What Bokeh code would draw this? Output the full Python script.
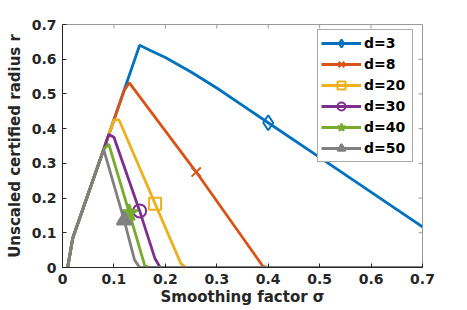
from bokeh.plotting import figure
from bokeh.models import FixedTicker, Legend, LegendItem, Range1d
from bokeh.embed import file_html
from bokeh.resources import INLINE

# ---- data ----
labels = ["d=3", "d=8", "d=20", "d=30", "d=40", "d=50"]
colors = ["#0072BD", "#D95319", "#EDB120", "#7E2F8E", "#77AC30", "#808080"]

x_d3 = [0.01, 0.02, 0.08, 0.15, 0.17, 0.20, 0.25, 0.30, 0.35, 0.40, 0.50, 0.60, 0.70]
y_d3 = [0.0, 0.085, 0.34, 0.64, 0.626, 0.605, 0.563, 0.517, 0.467, 0.417, 0.317, 0.217, 0.117]

x_d8 = [0.01, 0.02, 0.08, 0.12, 0.13, 0.26, 0.39, 0.40, 0.70]
y_d8 = [0.0, 0.085, 0.34, 0.51, 0.532, 0.275, 0.003, 0.0, 0.0]

x_d20 = [0.01, 0.02, 0.08, 0.10, 0.11, 0.18, 0.23, 0.24, 0.70]
y_d20 = [0.0, 0.085, 0.34, 0.425, 0.425, 0.184, 0.012, 0.0, 0.0]

x_d30 = [0.01, 0.02, 0.08, 0.09, 0.10, 0.15, 0.18, 0.19, 0.70]
y_d30 = [0.0, 0.085, 0.34, 0.383, 0.375, 0.163, 0.025, 0.0, 0.0]

x_d40 = [0.01, 0.02, 0.08, 0.09, 0.13, 0.16, 0.17, 0.70]
y_d40 = [0.0, 0.085, 0.34, 0.355, 0.157, 0.005, 0.0, 0.0]

x_d50 = [0.01, 0.02, 0.08, 0.12, 0.14, 0.15, 0.70]
y_d50 = [0.0, 0.085, 0.34, 0.136, 0.022, 0.0, 0.0]

marker_index = [9, 5, 5, 5, 4, 3]
markers = ["diamond", "x", "square", "circle", "star", "triangle"]

x_ticks = [0, 0.1, 0.2, 0.3, 0.4, 0.5, 0.6, 0.7]
x_tick_labels = ["0", "0.1", "0.2", "0.3", "0.4", "0.5", "0.6", "0.7"]
y_ticks = [0, 0.1, 0.2, 0.3, 0.4, 0.5, 0.6, 0.7]
y_tick_labels = ["0", "0.1", "0.2", "0.3", "0.4", "0.5", "0.6", "0.7"]
x_min, x_max = 0.0, 0.7
y_min, y_max = 0.0, 0.7

series_x = [x_d3, x_d8, x_d20, x_d30, x_d40, x_d50]
series_y = [y_d3, y_d8, y_d20, y_d30, y_d40, y_d50]

# ---- styling ----
marker_sizes = [15, 13, 12, 13, 18, 15]
marker_filled = [False, False, False, False, True, True]
FONT = "DejaVu Sans"
DARK = "#262626"
LIGHT = "#9a9a9a"
FW, FH = 360, 243
TICK_PX = 4

p = figure(frame_width=FW, frame_height=FH, output_backend="svg", toolbar_location=None,
           x_range=Range1d(x_min, x_max), y_range=Range1d(y_min, y_max),
           min_border_left=62, min_border_right=40, min_border_top=24, min_border_bottom=40)
p.background_fill_color = "white"
p.border_fill_color = "white"
p.outline_line_color = LIGHT
p.outline_line_width = 1
p.xgrid.visible = False
p.ygrid.visible = False

def style_axis(ax, ticks, tick_labels):
    ax.ticker = FixedTicker(ticks=ticks)
    ax.major_label_overrides = {t: s for t, s in zip(ticks, tick_labels)}
    ax.axis_line_color = DARK
    ax.axis_line_width = 1
    ax.major_tick_line_color = DARK
    ax.major_tick_in = TICK_PX
    ax.major_tick_out = 0
    ax.minor_tick_line_color = None
    ax.major_label_text_font = FONT
    ax.major_label_text_font_style = "bold"
    ax.major_label_text_font_size = "14px"
    ax.major_label_text_color = DARK
    ax.axis_label_text_font = FONT
    ax.axis_label_text_font_style = "bold"
    ax.axis_label_text_font_size = "15px"
    ax.axis_label_text_color = DARK

style_axis(p.xaxis[0], x_ticks, x_tick_labels)
style_axis(p.yaxis[0], y_ticks, y_tick_labels)
p.xaxis[0].axis_label = "Smoothing factor σ"
p.yaxis[0].axis_label = "Unscaled certified radius r"
p.xaxis[0].major_label_standoff = 6
p.yaxis[0].major_label_standoff = 6
p.xaxis[0].axis_label_standoff = 1
p.yaxis[0].axis_label_standoff = 5

# inward ticks on the top and right edges of the box (positions from the tick lists)
dy = (y_max - y_min) / FH * TICK_PX
dx = (x_max - x_min) / FW * TICK_PX
p.segment(x0=x_ticks, y0=[y_max] * len(x_ticks), x1=x_ticks, y1=[y_max - dy] * len(x_ticks),
          line_color=LIGHT, line_width=1)
p.segment(x0=[x_max] * len(y_ticks), y0=y_ticks, x1=[x_max - dx] * len(y_ticks), y1=y_ticks,
          line_color=LIGHT, line_width=1)

items = []
for xs, ys, c, lab, mk, ms, mf, mi in zip(series_x, series_y, colors, labels, markers,
                                          marker_sizes, marker_filled, marker_index):
    ln = p.line(xs, ys, line_color=c, line_width=2.8)
    sc = p.scatter([xs[mi]], [ys[mi]], marker=mk, size=ms, line_color=c, line_width=2,
                   fill_color=c if mf else None)
    items.append(LegendItem(label=lab, renderers=[ln, sc]))

legend = Legend(items=items, location=(255, 105))
legend.padding = 3
legend.spacing = 1
legend.glyph_width = 40
legend.glyph_height = 20
legend.label_height = 20
legend.label_width = 45
legend.label_standoff = 3
legend.label_text_font = FONT
legend.label_text_font_style = "bold"
legend.label_text_font_size = "14px"
legend.label_text_color = "black"
legend.border_line_color = "#555555"
legend.border_line_width = 1
legend.background_fill_color = "white"
legend.background_fill_alpha = 1
p.add_layout(legend, "center")

open("out.html", "w").write(file_html(p, INLINE))
